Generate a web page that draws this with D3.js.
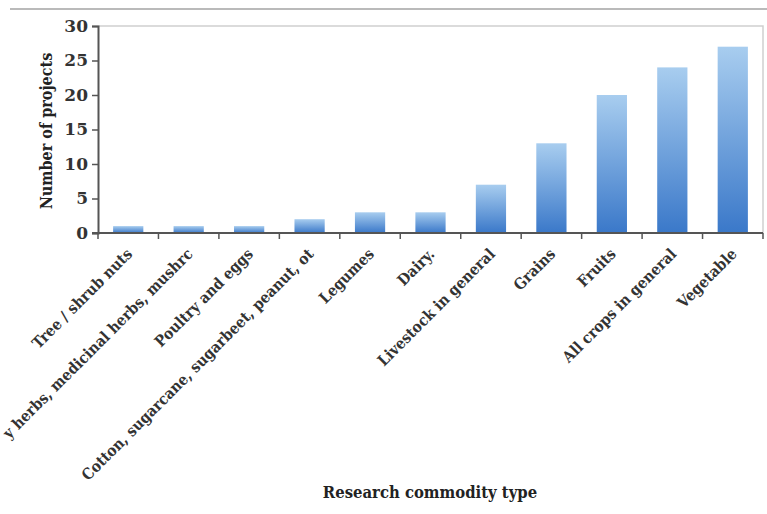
<!DOCTYPE html>
<html><head><meta charset="utf-8">
<script src="https://cdn.jsdelivr.net/npm/d3@7"></script>
<style>body{margin:0;background:#fff}svg{display:block}</style>
</head><body>
<svg id="c" width="767" height="514"></svg>
<script>
const categories = ["Tree / shrub nuts","y herbs, medicinal herbs, mushrc","Poultry and eggs","Cotton, sugarcane, sugarbeet, peanut, ot","Legumes","Dairy.","Livestock in general","Grains","Fruits","All crops in general","Vegetable"];
const values = [1,1,1,2,3,3,7,13,20,24,27];
const yTicks = [0,5,10,15,20,25,30];

const svg = d3.select("#c");
const font = "'DejaVu Serif', serif";
const fontC = "'DejaVu Serif Condensed', 'DejaVu Serif', serif";
const L = 98, R = 763, T = 26, B = 233;
const x = d3.scaleBand().domain(categories).range([L, R]).paddingInner(0.5).paddingOuter(0.25);
const y = d3.scaleLinear().domain([0, 30]).range([B, T]);

const defs = svg.append("defs");
const g = defs.append("linearGradient").attr("id","bg").attr("x1",0).attr("y1",0).attr("x2",0).attr("y2",1);
g.append("stop").attr("offset","0%").attr("stop-color","#a8cdef");
g.append("stop").attr("offset","100%").attr("stop-color","#3a78c9");

// top rule
svg.append("line").attr("x1",10).attr("x2",767).attr("y1",9).attr("y2",9).attr("stroke","#777").attr("stroke-width",1.2);

// plot border
svg.append("path").attr("d",`M${L},${T}H${R}V${B}`).attr("fill","none").attr("stroke","#cfcfcf").attr("stroke-width",1.5);

// bars
svg.append("g").selectAll("rect").data(values).join("rect")
  .attr("x",(d,i)=>x(categories[i])).attr("width",x.bandwidth())
  .attr("y",d=>y(d)).attr("height",d=>B-y(d)).attr("fill","url(#bg)");

// y axis
const ya = svg.append("g").attr("transform",`translate(${L},0)`)
  .call(d3.axisLeft(y).tickValues(yTicks).tickSize(6).tickPadding(4));
ya.select(".domain").attr("stroke","#555").attr("stroke-width",2);
ya.selectAll(".tick line").attr("stroke","#555").attr("stroke-width",1.5);
ya.selectAll(".tick text").attr("font-family",font).attr("font-weight","bold").attr("font-size",17).attr("fill","#333");

// x axis with boundary ticks
const step = x.step();
const xa = svg.append("g").attr("transform",`translate(0,${B})`);
xa.append("line").attr("x1",L-6).attr("x2",R).attr("y1",0).attr("y2",0).attr("stroke","#555").attr("stroke-width",2);
xa.selectAll("line.tk").data(d3.range(categories.length+1)).join("line").attr("class","tk")
  .attr("x1",i=>L+i*step).attr("x2",i=>L+i*step).attr("y1",0).attr("y2",6).attr("stroke","#555").attr("stroke-width",1.5);

svg.append("g").selectAll("text").data(categories).join("text")
  .attr("transform",d=>`translate(${x(d)+x.bandwidth()/2+5},${B+22}) rotate(-45)`)
  .attr("text-anchor","end").attr("font-family",fontC).attr("font-weight","bold").attr("font-size",15.5).attr("fill","#333")
  .text(d=>d);

svg.append("text").attr("transform","translate(52,131) rotate(-90)").attr("text-anchor","middle")
  .attr("font-family",fontC).attr("font-weight","bold").attr("font-size",16).attr("fill","#222").text("Number of projects");
svg.append("text").attr("x",430).attr("y",498).attr("text-anchor","middle")
  .attr("font-family",fontC).attr("font-weight","bold").attr("font-size",16.5).attr("fill","#222").text("Research commodity type");
</script>
</body></html>
